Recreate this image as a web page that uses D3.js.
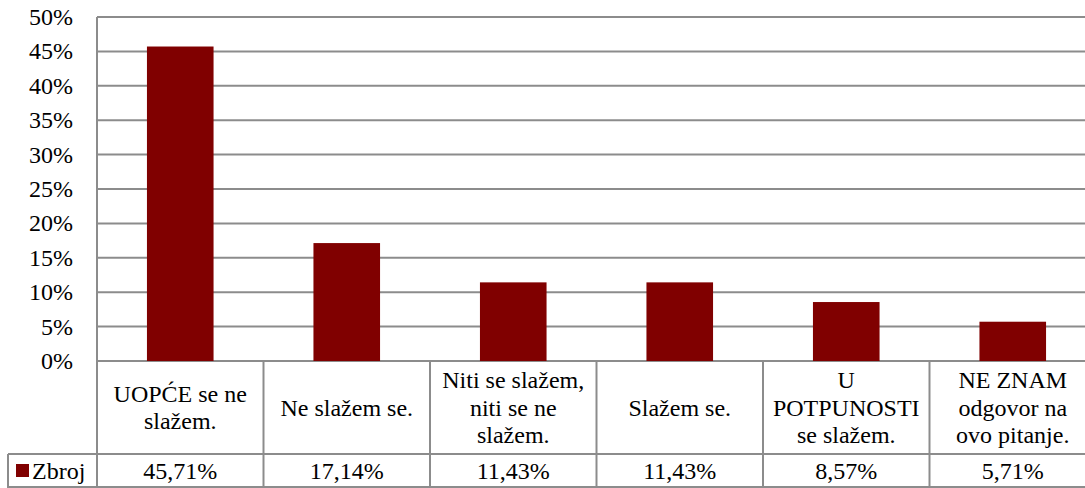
<!DOCTYPE html>
<html>
<head>
<meta charset="utf-8">
<script src="https://cdn.jsdelivr.net/npm/d3@7"></script>
</head>
<body style="margin:0">
<script>
// data
var categories = ["UOPĆE se ne slažem.", "Ne slažem se.", "Niti se slažem, niti se ne slažem.",
                  "Slažem se.", "U POTPUNOSTI se slažem.", "NE ZNAM odgovor na ovo pitanje."];
var categoryLines = [
  ["UOPĆE se ne", "slažem."],
  ["Ne slažem se."],
  ["Niti se slažem,", "niti se ne", "slažem."],
  ["Slažem se."],
  ["U", "POTPUNOSTI", "se slažem."],
  ["NE ZNAM", "odgovor na", "ovo pitanje."]
];
var seriesName = "Zbroj";
var values = [45.71, 17.14, 11.43, 11.43, 8.57, 5.71];
var yTicks = [0, 5, 10, 15, 20, 25, 30, 35, 40, 45, 50];

var W = 1085, H = 488;
var plotLeft = 97, plotRight = 1096, plotTop = 17, zeroY = 361, catBottom = 454, tblBottom = 487;
var gridColor = "#8c8c8c";
var barColor = "#800000";

var hr = d3.formatLocale({decimal: ",", thousands: ".", grouping: [3], currency: ["", ""]});
var fmtVal = function(v) { return hr.format(".2f")(v) + "%"; };

var svg = d3.select("body").append("svg")
    .attr("width", W)
    .attr("height", H);

var x = d3.scaleBand()
    .domain(categories)
    .range([plotLeft, plotRight])
    .paddingInner(0.6)
    .paddingOuter(0.3);

var y = d3.scaleLinear()
    .domain([0, 50])
    .range([zeroY, plotTop]);

// small helper so every label gets the same serif face
function label(sel) {
  return sel
    .style("font-family", function() { return "serif"; })
    .style("font-size", "24px");
}

// gridlines
svg.append("g").selectAll("line")
    .data(yTicks)
    .enter()
    .append("line")
    .attr("x1", plotLeft).attr("x2", plotRight)
    .attr("y1", function(d) { return y(d); })
    .attr("y2", function(d) { return y(d); })
    .style("stroke", gridColor)
    .style("stroke-width", 2);

// y axis labels
svg.selectAll("text.ytick")
    .data(yTicks)
    .enter()
    .append("text")
    .attr("class", "ytick")
    .attr("text-anchor", "end")
    .attr("x", plotLeft - 24)
    .attr("y", function(d) { return y(d) + 8; })
    .call(label)
    .text(function(d) { return d + "%"; });

// bars
svg.append("g").selectAll("rect")
    .data(values)
    .enter()
    .append("rect")
    .attr("x", function(d, i) { return x(categories[i]); })
    .attr("width", x.bandwidth())
    .attr("y", function(d) { return y(d); })
    .attr("height", function(d) { return zeroY - y(d); })
    .style("fill", barColor);

// data table lines
var colEdges = categories.map(function(c) { return x(c) - x.bandwidth() * 0.75; });
colEdges.push(plotRight);

svg.selectAll("line.v")
    .data(colEdges)
    .enter()
    .append("line")
    .attr("class", "v")
    .attr("x1", function(d) { return d; }).attr("x2", function(d) { return d; })
    .attr("y1", function(d, i) { return i === 0 ? plotTop : zeroY; })
    .attr("y2", tblBottom + 1)
    .style("stroke", gridColor)
    .style("stroke-width", 2);
svg.append("line")
    .attr("x1", 8).attr("x2", plotRight)
    .attr("y1", catBottom).attr("y2", catBottom)
    .style("stroke", gridColor).style("stroke-width", 2);
svg.append("line")
    .attr("x1", 8).attr("x2", 8)
    .attr("y1", catBottom).attr("y2", tblBottom + 1)
    .style("stroke", gridColor).style("stroke-width", 2);
svg.append("line")
    .attr("x1", 8).attr("x2", plotRight)
    .attr("y1", tblBottom).attr("y2", tblBottom)
    .style("stroke", gridColor).style("stroke-width", 2);

// category labels, one text per line
var lineH = 27.5;
var catMid = (zeroY + catBottom) / 2 + 8;
var catRows = [];
categoryLines.forEach(function(lines, i) {
  lines.forEach(function(l, j) {
    catRows.push({t: l, i: i, y: catMid - (lines.length - 1) * lineH / 2 + j * lineH});
  });
});
svg.selectAll("text.cat")
    .data(catRows)
    .enter()
    .append("text")
    .attr("class", "cat")
    .attr("text-anchor", "middle")
    .attr("x", function(d) { return x(categories[d.i]) + x.bandwidth() / 2; })
    .attr("y", function(d) { return d.y; })
    .call(label)
    .text(function(d) { return d.t; });

// values row
var valY = (catBottom + 488) / 2 + 8;
svg.selectAll("text.val")
    .data(values)
    .enter()
    .append("text")
    .attr("class", "val")
    .attr("text-anchor", "middle")
    .attr("x", function(d, i) { return x(categories[i]) + x.bandwidth() / 2; })
    .attr("y", valY)
    .call(label)
    .text(fmtVal);

// legend key
svg.append("rect")
    .attr("x", 16).attr("y", 464)
    .attr("width", 13).attr("height", 13)
    .style("fill", barColor);
svg.append("text")
    .attr("x", 32).attr("y", valY)
    .call(label)
    .text(seriesName);
</script>
</body>
</html>
